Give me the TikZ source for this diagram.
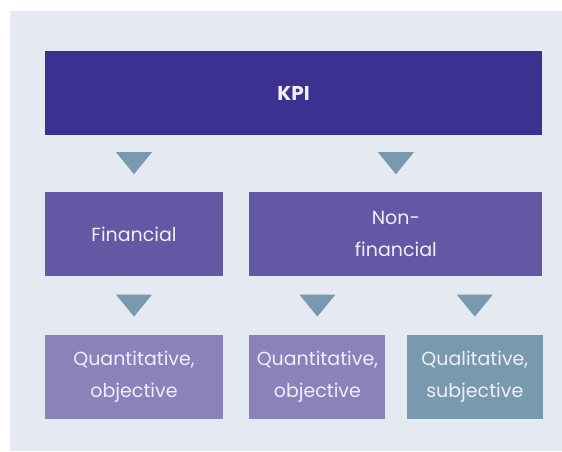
\documentclass[tikz,border=0pt]{standalone}
\usepackage{fontspec}
\setmainfont{Poppins}
\usetikzlibrary{positioning}
\definecolor{panel}{HTML}{E5E9F1}
\definecolor{kpiblue}{HTML}{3C3190}
\definecolor{midviolet}{HTML}{6358A4}
\definecolor{lightviolet}{HTML}{8B82BC}
\definecolor{greyblue}{HTML}{7899AE}
\definecolor{boxtext}{HTML}{F0EEF7}
\tikzset{
box/.style={inner sep=0pt,align=center,minimum height=84pt,text=boxtext,font=\fontsize{19}{32}\selectfont},
topbox/.style={box,fill=kpiblue,minimum width=497pt,font=\fontsize{20}{24}\selectfont\bfseries},
midbox/.style={box,fill=midviolet},
lowbox/.style={box,fill=lightviolet},
tri/.style={fill=greyblue}
}

\begin{document}
\begin{tikzpicture}[x=1pt,y=1pt]
\useasboundingbox (0,0) rectangle (562,-451);
\fill[panel] (10,-11) rectangle (562,-451);

\node[topbox] (kpi) at (293.5,-93) {KPI};
\node[midbox,minimum width=178pt,below=57pt of kpi.south west,anchor=north west] (fin) {Financial};
\node[midbox,minimum width=293pt,right=26pt of fin] (nonfin) {Non-\\financial};
\node[lowbox,minimum width=178pt,below=58pt of fin] (quantA) {Quantitative,\\objective};
\node[lowbox,minimum width=136pt,below=58pt of nonfin.south west,anchor=north west] (quantB) {Quantitative,\\objective};
\node[box,fill=greyblue,minimum width=136pt,right=21pt of quantB] (qual) {Qualitative,\\subjective};

% pointers above each box
\foreach \n in {fin,nonfin,quantA,quantB,qual}
  \fill[tri] ([xshift=-18pt,yshift=40pt]\n.north) -- ([xshift=18pt,yshift=40pt]\n.north) -- ([yshift=18pt]\n.north) -- cycle;
\end{tikzpicture}
\end{document}
